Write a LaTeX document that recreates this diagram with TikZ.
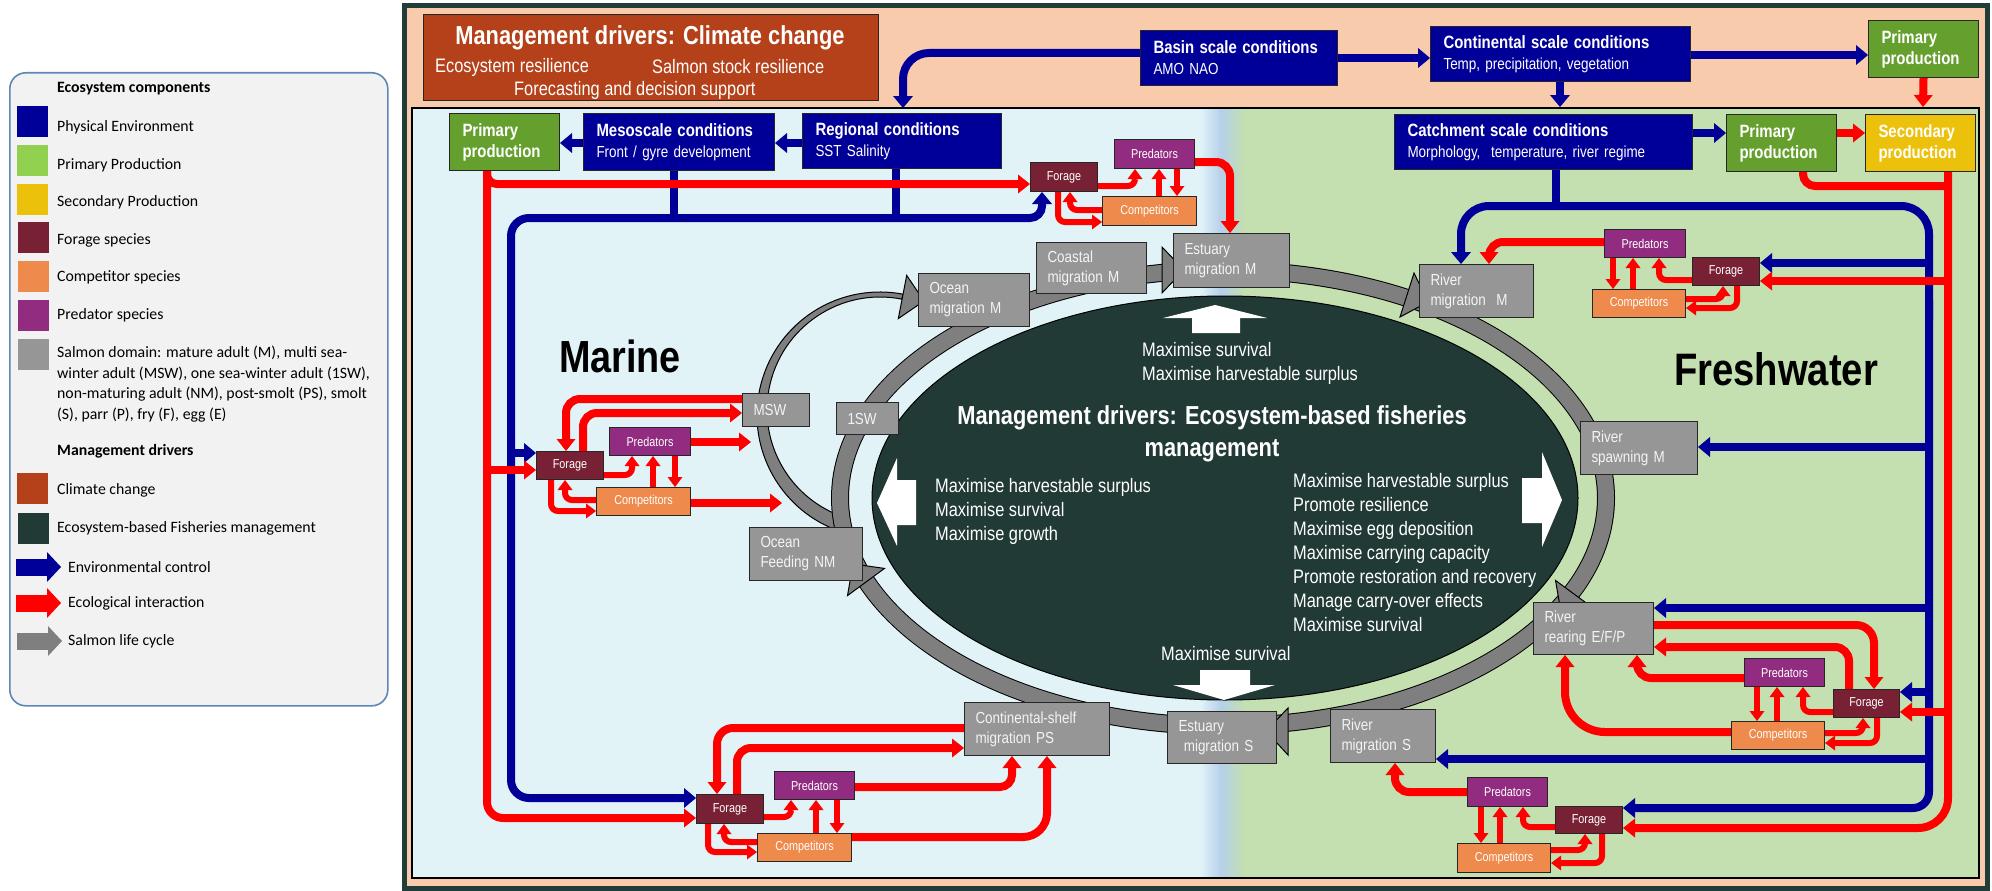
\documentclass[tikz,border=0pt]{standalone}
\usepackage{fontspec}
\setmainfont[FakeStretch=0.84]{Liberation Sans}
\newfontfamily\legfont{Carlito}
\usetikzlibrary{arrows.meta}

\definecolor{framegreen}{HTML}{213D37}
\definecolor{peach}{HTML}{F8CBAD}
\definecolor{seabg}{HTML}{E2F3F8}
\definecolor{freshbg}{HTML}{C4DFB0}
\definecolor{stripe}{HTML}{B6D0EA}
\definecolor{navy}{HTML}{000099}
\definecolor{ecored}{HTML}{FF0000}
\definecolor{prim}{HTML}{65A02F}
\definecolor{primlight}{HTML}{92D050}
\definecolor{second}{HTML}{EBC10C}
\definecolor{forage}{HTML}{782135}
\definecolor{compet}{HTML}{EE8A4B}
\definecolor{predat}{HTML}{922C80}
\definecolor{salmon}{HTML}{969696}
\definecolor{ringgrey}{HTML}{7F7F7F}
\definecolor{climate}{HTML}{B4411A}
\definecolor{ebfm}{HTML}{213A36}
\definecolor{legbg}{HTML}{F2F2F2}
\definecolor{legline}{HTML}{5D87B5}
\definecolor{saltext}{HTML}{F4F4F4}

\newcommand\fsz[2]{\fontsize{#1pt}{#2pt}\selectfont}
\newcommand\btl[1]{{\fsz{17.8}{21}\bfseries #1}}

\begin{document}
\begin{tikzpicture}[x=1pt, y=-1pt,
  box/.style={draw=black!85, line width=1pt, anchor=north west, inner ysep=0pt, align=left, text=white},
  cond/.style={box, fill=navy, inner xsep=13pt, font=\fsz{16}{21}},
  prod/.style={box, inner xsep=13pt, font=\fsz{17.8}{21}\bfseries},
  sal/.style={box, fill=salmon, inner xsep=11pt, text=saltext, font=\fsz{16}{20}},
  sp/.style={draw=black!85, line width=1pt, anchor=north west, inner sep=0pt, align=center, text=white, font=\fsz{12.9}{15}},
  fbox/.style={sp, fill=forage},
  pbox/.style={sp, fill=predat},
  cbox/.style={sp, fill=compet},
  txt/.style={inner sep=0pt, text=white, align=left},
  leg/.style={anchor=west, inner sep=0pt, align=left, font=\legfont\fsz{15.8}{20.7}},
  sw/.style={anchor=north west, inner sep=0pt, minimum width=31pt, minimum height=31pt},
  rarr/.style={draw=ecored, line width=8pt, -{Triangle[width=19pt,length=12pt,line width=0pt]}},
  rsm/.style={draw=ecored, line width=6pt, -{Triangle[width=15pt,length=10pt,line width=0pt]}},
  rline/.style={draw=ecored, line width=8pt},
  barr/.style={draw=navy, line width=8pt, -{Triangle[width=20pt,length=12pt,line width=0pt]}},
  bline/.style={draw=navy, line width=8pt},
  ringtip/.style={fill=ringgrey, draw=black, line width=1pt, line join=miter},
  legarrow/.style={line width=17pt, -{Triangle[width=30pt,length=14pt,line width=0pt]}},
]
\useasboundingbox (0,0) rectangle (1992,891);
\fill[white] (0,0) rectangle (1992,891);

% ================= legend =================
\node[draw=legline, line width=1.6pt, fill=legbg, rounded corners=16pt, anchor=north west,
      minimum width=378pt, minimum height=633pt, inner sep=0pt] (legend) at (9,72) {};
\node[leg, font=\legfont\fsz{15.8}{20.7}\bfseries] (lhead1) at (57,89) {Ecosystem components};
\node[sw, fill=navy] (swphys) at (17,106) {};
\node[leg] (lphys) at (57,127) {Physical Environment};
\node[sw, fill=primlight] (swprim) at (17,145) {};
\node[leg] (lprim) at (57,165) {Primary Production};
\node[sw, fill=second] (swsec) at (17,184) {};
\node[leg] (lsec) at (57,202) {Secondary Production};
\node[sw, fill=forage] (swfor) at (18,222) {};
\node[leg] (lfor) at (57,240) {Forage species};
\node[sw, fill=compet] (swcom) at (18,261) {};
\node[leg] (lcom) at (57,277) {Competitor species};
\node[sw, fill=predat] (swpre) at (18,300) {};
\node[leg] (lpre) at (57,315) {Predator species};
\node[sw, fill=salmon] (swsal) at (18,339) {};
\node[leg] (lsal) at (57,384) {Salmon domain: mature adult (M), multi sea-\\winter adult (MSW), one sea-winter adult (1SW),\\non-maturing adult (NM), post-smolt (PS), smolt\\(S), parr (P), fry (F), egg (E)};
\node[leg, font=\legfont\fsz{15.8}{20.7}\bfseries] (lhead2) at (57,451) {Management drivers};
\node[sw, fill=climate] (swcli) at (17,473) {};
\node[leg] (lcli) at (57,490) {Climate change};
\node[sw, fill=ebfm] (swebf) at (18,513) {};
\node[leg] (lebf) at (57,528) {Ecosystem-based Fisheries management};
\draw[legarrow, navy] (16,567) -- (61,567);
\node[leg] (lenv) at (68,567) {Environmental control};
\draw[legarrow, ecored] (16,603) -- (61,603);
\node[leg] (leco) at (68,603) {Ecological interaction};
\draw[legarrow, ringgrey] (17,641) -- (62,641);
\node[leg] (llife) at (68,641) {Salmon life cycle};

% ================= frame and domains =================
\filldraw[fill=peach, draw=framegreen, line width=5pt] (404.5,6) rectangle (1987.5,888.5);
\fill[seabg] (412,108) rectangle (1220,878);
\fill[freshbg] (1220,108) rectangle (1979,878);
\shade[left color=seabg, right color=stripe] (1200,108) rectangle (1221,878);
\shade[left color=stripe, right color=freshbg] (1221,108) rectangle (1244,878);
\draw[black, line width=1.3pt] (412,108) rectangle (1979,878);

\node[inner sep=0pt, anchor=base, font=\fsz{45}{50}\bfseries] (marine) at (620,372) {Marine};
\node[inner sep=0pt, anchor=base, font=\fsz{45.5}{50}\bfseries] (fresh) at (1776,385) {Freshwater};

% ================= climate driver =================
\node[box, fill=climate, minimum width=455pt, minimum height=86pt] (climate) at (423,14) {};
\node[txt, font=\fsz{26}{30}\bfseries] (cctitle) at (650,38) {Management drivers: Climate change};
\node[txt, anchor=west, font=\fsz{19.5}{24}] (ccres1) at (435,67) {Ecosystem resilience};
\node[txt, anchor=west, font=\fsz{19.5}{24}] (ccres2) at (652,67) {Salmon stock resilience};
\node[txt, anchor=west, font=\fsz{19.5}{24}] (ccfore) at (514,90) {Forecasting and decision support};

% ================= ecosystem-based management ellipse =================
\filldraw[fill=ebfm, draw=black, line width=1pt] (1225,498) ellipse [x radius=353, y radius=202];
\fill[white] (1215,305) -- (1267,318) -- (1240,318) -- (1240,333) -- (1192,333) -- (1192,318) -- (1163,318) -- cycle;
\fill[white] (1224,700) -- (1275,685) -- (1250,685) -- (1250,670) -- (1200,670) -- (1200,685) -- (1173,685) -- cycle;
\fill[white] (877,503) -- (897,458) -- (897,480) -- (916,480) -- (916,525) -- (897,525) -- (897,546) -- cycle;
\fill[white] (1562,500) -- (1542,452) -- (1542,478) -- (1522,478) -- (1522,523) -- (1542,523) -- (1542,547) -- cycle;
\node[txt, anchor=west, font=\fsz{19.5}{24}] (eup) at (1142,363.5) {Maximise survival\\Maximise harvestable surplus};
\node[txt, align=center, font=\fsz{26}{32}\bfseries] (etitle) at (1212,434) {Management drivers: Ecosystem-based fisheries\\management};
\node[txt, anchor=west, font=\fsz{19.5}{24}] (eleft) at (935,511) {Maximise harvestable surplus\\Maximise survival\\Maximise growth};
\node[txt, anchor=west, font=\fsz{19.5}{24}] (eright) at (1293,553) {Maximise harvestable surplus\\Promote resilience\\Maximise egg deposition\\Maximise carrying capacity\\Promote restoration and recovery\\Manage carry-over effects\\Maximise survival};
\node[txt, anchor=west, font=\fsz{19.5}{24}] (edown) at (1161,654) {Maximise survival};

% ================= salmon life cycle ring =================
\filldraw[fill=ringgrey, draw=black, line width=1pt]
  (880,415) ++(108:123) arc[start angle=108, end angle=281, radius=123]
  -- (901.6,299.1) arc[start angle=281, end angle=108, radius=113] -- cycle;
\draw[black, line width=18pt] (1223,498) ellipse [x radius=383, y radius=228];
\draw[ringgrey, line width=16pt] (1223,498) ellipse [x radius=383, y radius=228];
\filldraw[ringtip] (1162,247) -- (1184,270) -- (1162,293) -- cycle;
\filldraw[ringtip] (1414,273) -- (1428,302) -- (1400,317) -- cycle;
\filldraw[ringtip] (1592.5,607.6) -- (1561,612) -- (1555.5,580.4) -- cycle;
\filldraw[ringtip] (1288,708) -- (1266,731) -- (1288,755) -- cycle;
\filldraw[ringtip] (884.5,568.4) -- (853,564) -- (847.5,595.6) -- cycle;
\filldraw[ringtip] (906.7,275.4) -- (924,301) -- (898.3,318.6) -- cycle;

% ================= boxes: physical conditions and production =================
\node[cond, minimum width=197pt, minimum height=55pt, text width=171pt] (basin) at (1140,30) {\btl{Basin scale conditions}\\AMO NAO};
\node[cond, minimum width=260pt, minimum height=55pt, text width=234pt] (cont) at (1430,26) {\btl{Continental scale conditions}\\Temp, precipitation, vegetation};
\node[prod, fill=prim, minimum width=110pt, minimum height=57pt, text width=84pt] (primtr) at (1868,20) {Primary\\production};
\node[prod, fill=prim, minimum width=110pt, minimum height=57pt, text width=84pt] (primm) at (449,113) {Primary\\production};
\node[cond, minimum width=191pt, minimum height=57pt, text width=165pt] (meso) at (583,113) {\btl{Mesoscale conditions}\\Front / gyre development};
\node[cond, minimum width=199pt, minimum height=55pt, text width=173pt] (reg) at (802,113) {\btl{Regional conditions}\\SST Salinity};
\node[cond, minimum width=298pt, minimum height=55pt, text width=272pt] (catch) at (1394,114) {\btl{Catchment scale conditions}\\Morphology,\ \ temperature, river regime};
\node[prod, fill=prim, minimum width=110pt, minimum height=57pt, text width=84pt] (primf) at (1726,114) {Primary\\production};
\node[prod, fill=second, minimum width=110pt, minimum height=57pt, text width=84pt] (secf) at (1865,114) {Secondary\\production};

% ================= forage / predator / competitor boxes =================
\node[fbox, minimum width=67pt, minimum height=29pt] (fa) at (1030,162) {Forage};
\node[pbox, minimum width=80pt, minimum height=29pt] (pa) at (1114,139) {Predators};
\node[cbox, minimum width=94pt, minimum height=29pt] (ca) at (1102,196) {Competitors};
\node[fbox, minimum width=67pt, minimum height=28pt] (fb) at (536,451) {Forage};
\node[pbox, minimum width=81pt, minimum height=28pt] (pb) at (609,427) {Predators};
\node[cbox, minimum width=94pt, minimum height=28pt] (cb) at (596,487) {Competitors};
\node[fbox, minimum width=67pt, minimum height=29pt] (fc) at (696,794) {Forage};
\node[pbox, minimum width=80pt, minimum height=28pt] (pc) at (774,771) {Predators};
\node[cbox, minimum width=94pt, minimum height=28pt] (cc) at (757,833) {Competitors};
\node[pbox, minimum width=81pt, minimum height=28pt] (pd) at (1604,229) {Predators};
\node[fbox, minimum width=67pt, minimum height=28pt] (fd) at (1692,257) {Forage};
\node[cbox, minimum width=93pt, minimum height=28pt] (cd) at (1592,289) {Competitors};
\node[pbox, minimum width=80pt, minimum height=28pt] (pe) at (1744,658) {Predators};
\node[fbox, minimum width=66pt, minimum height=28pt] (fe) at (1833,689) {Forage};
\node[cbox, minimum width=93pt, minimum height=28pt] (ce) at (1731,721) {Competitors};
\node[pbox, minimum width=80pt, minimum height=29pt] (pf) at (1467,777) {Predators};
\node[fbox, minimum width=67pt, minimum height=27pt] (ff) at (1555,806) {Forage};
\node[cbox, minimum width=93pt, minimum height=29pt] (cf) at (1457,843) {Competitors};

% ================= salmon stages =================
\node[sal, minimum width=111pt, minimum height=53pt, text width=89pt] (oceanm) at (918,273) {Ocean\\migration M};
\node[sal, minimum width=110pt, minimum height=51pt, text width=88pt] (coastal) at (1036,242) {Coastal\\migration M};
\node[sal, minimum width=116pt, minimum height=54pt, text width=94pt] (estm) at (1173,233) {Estuary\\migration M};
\node[sal, minimum width=114pt, minimum height=53pt, text width=92pt] (rivm) at (1419,264) {River\\migration\ \ M};
\node[sal, minimum width=117pt, minimum height=53pt, text width=95pt] (spawn) at (1580,421) {River\\spawning M};
\node[sal, minimum width=120pt, minimum height=52pt, text width=98pt] (rear) at (1533,602) {River\\rearing E/F/P};
\node[sal, minimum width=105pt, minimum height=53pt, text width=83pt] (rivs) at (1330,709) {River\\migration S};
\node[sal, minimum width=109pt, minimum height=52pt, text width=87pt] (ests) at (1167,711) {Estuary\\\ migration S};
\node[sal, minimum width=145pt, minimum height=53pt, text width=123pt] (shelf) at (964,702) {Continental-shelf\\migration PS};
\node[sal, minimum width=113pt, minimum height=53pt, text width=91pt] (feed) at (749,527) {Ocean\\Feeding NM};
\node[sal, minimum width=67pt, minimum height=33pt, text width=45pt] (msw) at (742,393) {MSW};
\node[sal, minimum width=62pt, minimum height=32pt, text width=40pt] (sw1) at (836,402) {1SW};

% ================= environmental control (blue) =================
\coordinate (seatop) at (903,108);
\coordinate (freshtop) at (1560,107);
\draw[barr, rounded corners=26pt] (basin.west|-0,53) -| (seatop);
\draw[barr] (basin.east|-0,58) -- (cont.west|-0,58);
\draw[barr] (cont.east|-0,55) -- (primtr.west|-0,55);
\draw[barr] (cont.south-|1560,0) -- (freshtop);
\draw[barr] (reg.west|-0,143) -- (meso.east|-0,143);
\draw[barr] (meso.west|-0,143) -- (primm.east|-0,143);
\draw[bline] (meso.south-|674,0) -- (674,218);
\draw[bline] (reg.south-|896,0) -- (896,218);
\draw[barr, rounded corners=18pt] (674,218) -| (511,798) -- (fc.west|-0,798);
\draw[barr, rounded corners=12pt] (674,218) -| (fa.south-|1042,0);
\draw[barr] (511,453) -- (fb.west|-0,453);
\draw[barr] (catch.east|-0,133) -- (primf.west|-0,133);
\draw[bline] (catch.south-|1556,0) -- (1556,206);
\draw[barr, rounded corners=28pt] (1556,206) -| (rivm.north-|1461,0);
\draw[bline, rounded corners=28pt] (1556,206) -| (1929,320);
\draw[barr, rounded corners=16pt] (1929,300) |- (ff.east|-0,808);
\draw[barr] (1929,263) -- (fd.east|-0,263);
\draw[barr] (1929,447) -- (spawn.east|-0,447);
\draw[barr] (1929,608) -- (rear.east|-0,608);
\draw[barr] (1929,692) -- (fe.east|-0,692);
\draw[barr] (1929,759) -- (rivs.east|-0,759);

% ================= ecological interaction (red) =================
\coordinate (sectop) at (1923,107);
\draw[rarr] (primtr.south) -- (sectop);
\draw[rarr] (primf.east|-0,133) -- (secf.west|-0,133);
\draw[rarr, rounded corners=10pt] (primm.south-|487,0) |- (fa.west|-0,184);
\draw[rarr, rounded corners=16pt] (primm.south-|487,0) |- (fc.west|-0,818);
\draw[rarr] (487,470) -- (fb.west|-0,470);
\draw[rline, rounded corners=12pt] (primf.south-|1803,0) |- (1948,186);
\draw[rarr, rounded corners=30pt] (secf.south-|1948,0) |- (ff.east|-0,828);
\draw[rarr] (1948,281) -- (fd.east|-0,281);
\draw[rarr] (1948,712) -- (fe.east|-0,712);

% marine cluster near the estuary
\draw[rarr, rounded corners=14pt] (pa.east|-0,162) -| (estm.north-|1230,0);
\draw[rsm, rounded corners=7pt] (fa.east|-0,186) -| (pa.south-|1135,0);
\draw[rsm] (ca.north-|1159,0) -- (pa.south-|1159,0);
\draw[rsm] (pa.south-|1177,0) -- (ca.north-|1177,0);
\draw[rsm, rounded corners=7pt] (ca.west|-0,210) -| (fa.south-|1070,0);
\draw[rsm, rounded corners=7pt] (fa.south-|1058,0) |- (ca.west|-0,222);

% marine cluster at the sea-winter stages
\coordinate (loopa) at (751,442);
\coordinate (loopb) at (782,503);
\draw[rarr, rounded corners=14pt] (msw.west|-0,399) -| (fb.north-|566,0);
\draw[rarr, rounded corners=14pt] (fb.north-|583,0) |- (msw.west|-0,413);
\draw[rarr] (pb.east|-0,442) -- (loopa);
\draw[rarr] (cb.east|-0,503) -- (loopb);
\draw[rsm, rounded corners=7pt] (fb.east|-0,475) -| (pb.south-|632,0);
\draw[rsm] (cb.north-|653,0) -- (pb.south-|653,0);
\draw[rsm] (pb.south-|675,0) -- (cb.north-|675,0);
\draw[rsm, rounded corners=7pt] (cb.west|-0,500) -| (fb.south-|565,0);
\draw[rsm, rounded corners=7pt] (fb.south-|551,0) |- (cb.west|-0,511);

% marine cluster at the post-smolt stage
\draw[rarr, rounded corners=16pt] (shelf.west|-0,728) -| (fc.north-|717,0);
\draw[rarr, rounded corners=14pt] (fc.north-|737,0) |- (shelf.west|-0,748);
\draw[rarr, rounded corners=12pt] (pc.east|-0,787) -| (shelf.south-|1012,0);
\draw[rarr, rounded corners=24pt] (cc.east|-0,837) -| (shelf.south-|1047,0);
\draw[rsm, rounded corners=7pt] (fc.east|-0,817) -| (pc.south-|791,0);
\draw[rsm] (cc.north-|816,0) -- (pc.south-|816,0);
\draw[rsm] (pc.south-|837,0) -- (cc.north-|837,0);
\draw[rsm, rounded corners=7pt] (cc.west|-0,842) -| (fc.south-|724,0);
\draw[rsm, rounded corners=7pt] (fc.south-|708,0) |- (cc.west|-0,852);

% freshwater cluster at the upstream migration
\draw[rarr, rounded corners=14pt] (pd.west|-0,242) -| (rivm.north-|1489,0);
\draw[rsm] (pd.south-|1613,0) -- (cd.north-|1613,0);
\draw[rsm] (cd.north-|1633,0) -- (pd.south-|1633,0);
\draw[rsm, rounded corners=7pt] (fd.west|-0,280) -| (pd.south-|1659,0);
\draw[rsm, rounded corners=7pt] (cd.east|-0,299) -| (fd.south-|1723,0);
\draw[rsm, rounded corners=7pt] (fd.south-|1737,0) |- (cd.east|-0,308);

% freshwater cluster at the rearing stage
\draw[rarr, rounded corners=18pt] (rear.east|-0,625) -| (fe.north-|1874,0);
\draw[rarr, rounded corners=14pt] (fe.north-|1849,0) |- (rear.east|-0,647);
\draw[rarr, rounded corners=14pt] (pe.west|-0,678) -| (rear.south-|1637,0);
\draw[rarr, rounded corners=40pt] (ce.west|-0,732) -| (rear.south-|1565,0);
\draw[rsm] (pe.south-|1757,0) -- (ce.north-|1757,0);
\draw[rsm] (ce.north-|1777,0) -- (pe.south-|1777,0);
\draw[rsm, rounded corners=7pt] (fe.west|-0,712) -| (pe.south-|1803,0);
\draw[rsm, rounded corners=7pt] (ce.east|-0,733) -| (fe.south-|1863,0);
\draw[rsm, rounded corners=7pt] (fe.south-|1877,0) |- (ce.east|-0,743);

% freshwater cluster at the smolt stage
\draw[rarr, rounded corners=14pt] (pf.west|-0,792) -| (rivs.south-|1395,0);
\draw[rsm] (pf.south-|1481,0) -- (cf.north-|1481,0);
\draw[rsm] (cf.north-|1500,0) -- (pf.south-|1500,0);
\draw[rsm, rounded corners=7pt] (ff.west|-0,827) -| (pf.south-|1523,0);
\draw[rsm, rounded corners=7pt] (cf.east|-0,850) -| (ff.south-|1585,0);
\draw[rsm, rounded corners=7pt] (ff.south-|1602,0) |- (cf.east|-0,863);

\end{tikzpicture}
\end{document}
